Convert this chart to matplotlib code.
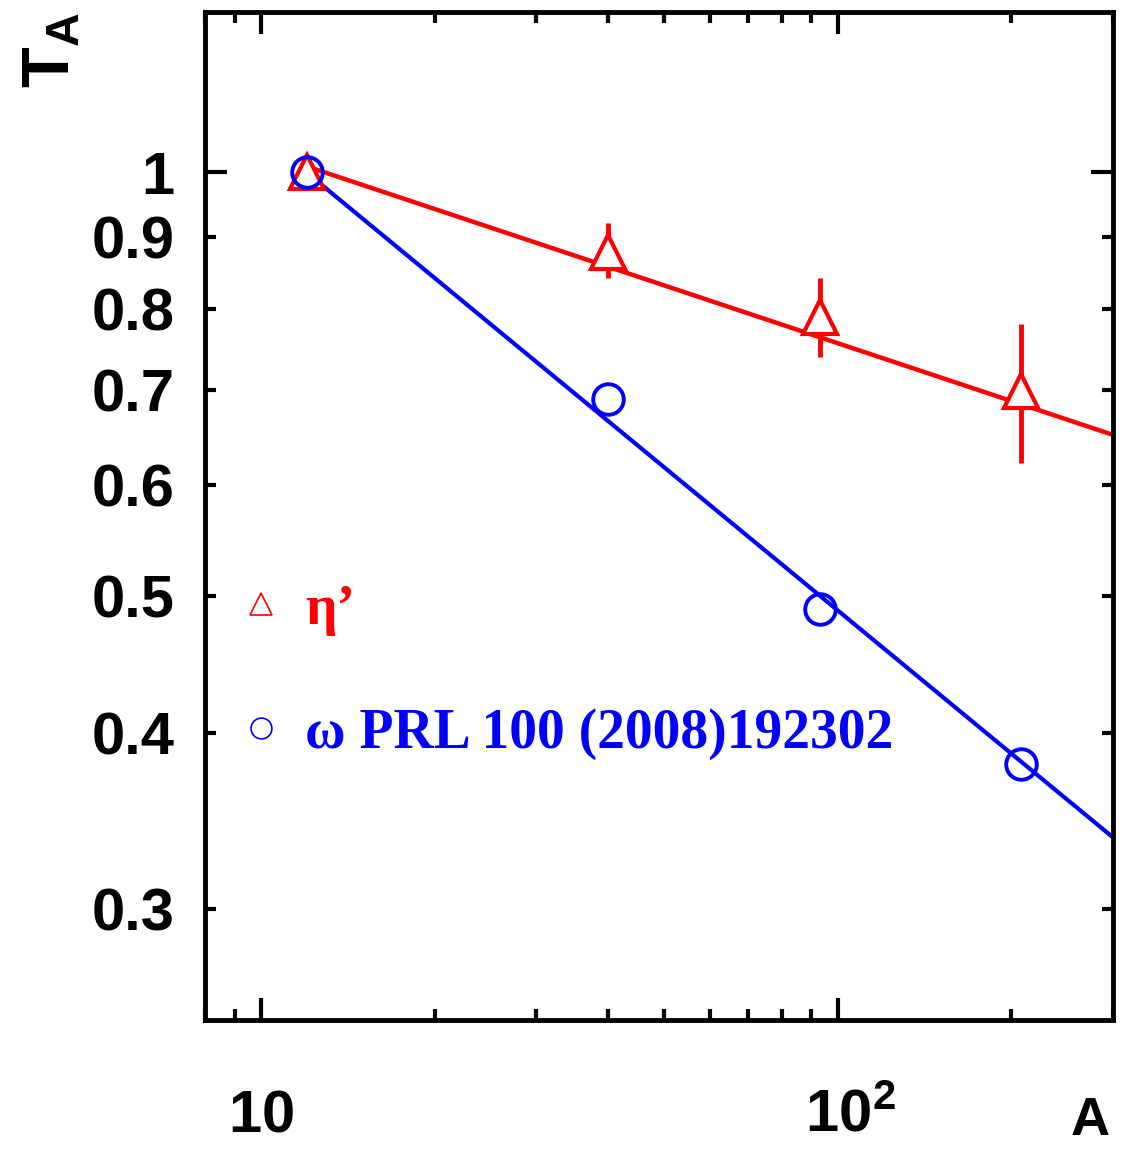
import matplotlib
matplotlib.use('Agg')
import matplotlib.pyplot as plt
from matplotlib.lines import Line2D
from matplotlib.ticker import FixedLocator, FixedFormatter, NullFormatter

# nuclear mass number
A = [12, 40, 93, 208]

# eta' transparency ratio with asymmetric errors
eta_T = [1.0, 0.878, 0.789, 0.699]
eta_lo = [0.0, 0.037, 0.049, 0.077]
eta_hi = [0.0, 0.042, 0.052, 0.081]

# omega, PRL 100 (2008) 192302
omega_T = [1.0, 0.690, 0.490, 0.380]

# fit lines (end points, straight on log-log)
fit_A = [12, 300]
eta_fit = [1.01, 0.651]
omega_fit = [1.0, 0.337]

x_major = [10, 100]
x_major_labels = [r'$\mathbf{10}$', r'$\mathbf{\enspace10^{2}}$']
x_minor = [8, 9, 20, 30, 40, 50, 60, 70, 80, 90, 200, 300]
y_major = [1.0]
y_major_labels = ['1']
y_minor = [0.3, 0.4, 0.5, 0.6, 0.7, 0.8, 0.9]
y_minor_labels = ['0.3', '0.4', '0.5', '0.6', '0.7', '0.8', '0.9']

plt.rcParams['mathtext.fontset'] = 'custom'
plt.rcParams['mathtext.rm'] = 'Liberation Sans:bold'
plt.rcParams['mathtext.bf'] = 'Liberation Sans:bold'
plt.rcParams['mathtext.it'] = 'Liberation Sans:bold'

red = '#ff0000'
blue = '#0000ff'

fig = plt.figure(figsize=(11.29, 11.49), dpi=100)
ax = fig.add_axes([205/1129, 1 - 1020/1149, 908/1129, 1008/1149])
ax.set_xscale('log')
ax.set_yscale('log')

ax.plot(fit_A, eta_fit, color=red, lw=3.2, zorder=2)
ax.plot(fit_A, omega_fit, color=blue, lw=3.0, zorder=2)

ax.errorbar(A, eta_T, yerr=[eta_lo, eta_hi], fmt='none', ecolor=red,
            elinewidth=3.5, capsize=0, zorder=3)
ax.plot(A, eta_T, ls='none', marker='^', ms=24, mfc='white', mec=red,
        mew=3.0, zorder=4)
ax.plot(A, omega_T, ls='none', marker='o', ms=22, mfc='none', mec=blue,
        mew=2.8, zorder=5)

ax.set_xlim(8, 300)
ax.set_ylim(0.25, 1.30)

ax.xaxis.set_major_locator(FixedLocator(x_major))
ax.xaxis.set_major_formatter(FixedFormatter(x_major_labels))
ax.xaxis.set_minor_locator(FixedLocator(x_minor))
ax.xaxis.set_minor_formatter(NullFormatter())
ax.yaxis.set_major_locator(FixedLocator(y_major))
ax.yaxis.set_major_formatter(FixedFormatter(y_major_labels))
ax.yaxis.set_minor_locator(FixedLocator(y_minor))
ax.yaxis.set_minor_formatter(FixedFormatter(y_minor_labels))

ax.tick_params(which='both', direction='in', top=True, right=True, width=3,
               labelsize=43, colors='black')
ax.tick_params(which='major', length=16)
ax.tick_params(which='minor', length=8)
ax.tick_params(axis='y', which='both', pad=22)
ax.tick_params(axis='x', which='major', pad=80)
for lab in ax.get_yticklabels(which='both'):
    lab.set_fontfamily('Liberation Sans')
    lab.set_fontweight('bold')
for lab in ax.get_xticklabels():
    lab.set_verticalalignment('baseline')

for sp in ax.spines.values():
    sp.set_linewidth(3.5)

fig.text(50/1129, 1 - 50/1149, r'$\mathbf{T_{A}}$', rotation=90, fontsize=48,
         ha='center', va='center')
ax.set_xlabel('A', fontsize=39, fontweight='bold', fontfamily='Liberation Sans',
              va='center')
ax.xaxis.set_label_coords((1090 - 205)/908, -(1121 - 1020)/1008)

handles = [
    Line2D([], [], ls='none', marker='^', ms=16, mfc='none', mec=red, mew=1.2),
    Line2D([], [], ls='none', marker='o', ms=15, mfc='none', mec=blue, mew=1.2),
]
labels = ['η’', 'ω PRL 100 (2008)192302']
leg = ax.legend(handles, labels, loc='upper left', bbox_to_anchor=(0.031, 0.433),
                frameon=False, handlelength=1.0, handletextpad=0.3,
                labelspacing=1.3, borderpad=0, borderaxespad=0,
                prop={'family': 'Liberation Serif', 'weight': 'bold', 'size': 40})
for txt, c in zip(leg.get_texts(), [red, blue]):
    txt.set_color(c)

fig.savefig('out.png', dpi=100)
